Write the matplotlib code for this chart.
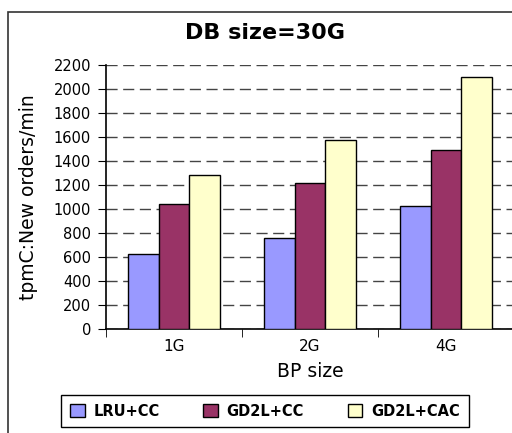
import numpy as np
import matplotlib.pyplot as plt
from matplotlib.patches import Rectangle

categories = ["1G", "2G", "4G"]
series = ["LRU+CC", "GD2L+CC", "GD2L+CAC"]
lru_cc = [625, 761, 1028]
gd2l_cc = [1039, 1214, 1492]
gd2l_cac = [1280, 1575, 2097]
colors = ["#9999FF", "#993366", "#FFFFCC"]

fig = plt.figure(figsize=(5.12, 4.33), dpi=100)
ax = fig.add_axes([0.207, 0.240, 0.797, 0.610])

# frame around the whole chart
fig.patches.append(Rectangle((8 / 512, -0.1), 1.2, 1 - 12 / 433 + 0.1,
                             transform=fig.transFigure, fill=False,
                             edgecolor="#333333", linewidth=1.2))

x = np.arange(len(categories))
w = 0.224
for k, (vals, name) in enumerate(zip([lru_cc, gd2l_cc, gd2l_cac], series)):
    ax.bar(x + (k - 1) * w, vals, w, color=colors[k], edgecolor="black",
           linewidth=1.0, label=name, zorder=3)

ax.set_xlim(-0.5, 2.5)
ax.set_ylim(0, 2200)
ax.set_yticks(range(0, 2201, 200))
ax.yaxis.grid(True, linestyle=(0, (8, 4)), color="#444444", linewidth=1.0)
ax.set_axisbelow(True)

ax.set_xticks(x)
ax.set_xticklabels(categories, fontsize=11)
ax.set_xticks([-0.5, 0.5, 1.5, 2.5], minor=True)
ax.tick_params(axis="x", which="major", length=0, pad=7)
ax.tick_params(axis="x", which="minor", length=6, direction="out")
ax.tick_params(axis="y", length=5.8, direction="out", labelsize=10.5, pad=5)

for s in ["top", "right"]:
    ax.spines[s].set_visible(False)
ax.spines["left"].set_linewidth(1.2)
ax.spines["bottom"].set_linewidth(1.2)

ax.set_ylabel("tpmC:New orders/min", fontsize=13.5, labelpad=11)
ax.set_xlabel("BP size", fontsize=13.5, labelpad=6)
fig.text(265 / 512, 1 - 33 / 433, "DB size=30G", fontsize=16,
         fontweight="bold", ha="center", va="center")

leg = fig.legend(loc="center", bbox_to_anchor=(265 / 512, 1 - 411 / 433),
                 ncol=3, fancybox=False, edgecolor="black", framealpha=1,
                 prop={"weight": "bold", "size": 10.5}, handlelength=1.0,
                 handleheight=1.0, columnspacing=3.0, handletextpad=0.6,
                 borderpad=0.6)
leg.get_frame().set_linewidth(1.0)

fig.savefig("out.png", dpi=100)
